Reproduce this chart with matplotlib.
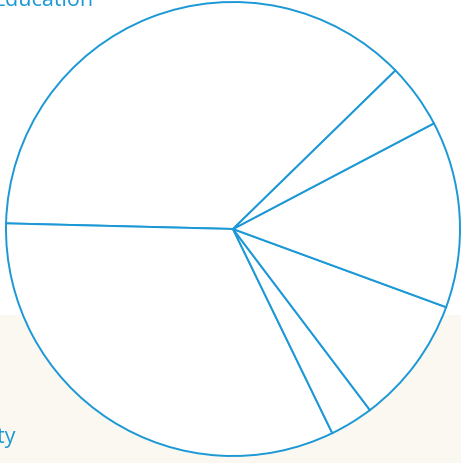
import matplotlib.pyplot as plt
from matplotlib.patches import Rectangle

# share of each slice, counterclockwise from the upper right edge
labels = ["Education", "Social security", "Housing", "Health", "Transport", "Other"]
shares = [37.3, 32.6, 3.1, 9.1, 13.3, 4.6]

blue = "#1b98d5"

fig = plt.figure(figsize=(4.61, 4.64), dpi=100)
fig.patch.set_facecolor("white")
ax = fig.add_axes([0, 0, 1, 1])

# cream band at the bottom of the page
ax.add_patch(Rectangle((0, 0), 461, 148, facecolor="#faf8f0", edgecolor="none", zorder=0))

ax.pie(shares, startangle=44.3, counterclock=True, center=(233, 234), radius=227,
       colors=["white"] * len(shares), frame=True,
       wedgeprops={"edgecolor": blue, "linewidth": 1.4})

ax.set_xlim(0, 461)
ax.set_ylim(0, 464)
ax.axis("off")

# labels cut by the edge of the picture, as in the page this was taken from
fig.text(94, 458, labels[0], color=blue, fontsize=15.5, family="Open Sans",
         weight="medium", ha="right", va="baseline", transform=None)
fig.text(15, 21, labels[1], color=blue, fontsize=15.5, family="Open Sans",
         weight="medium", ha="right", va="baseline", transform=None)

fig.savefig("out.png", dpi=100)
